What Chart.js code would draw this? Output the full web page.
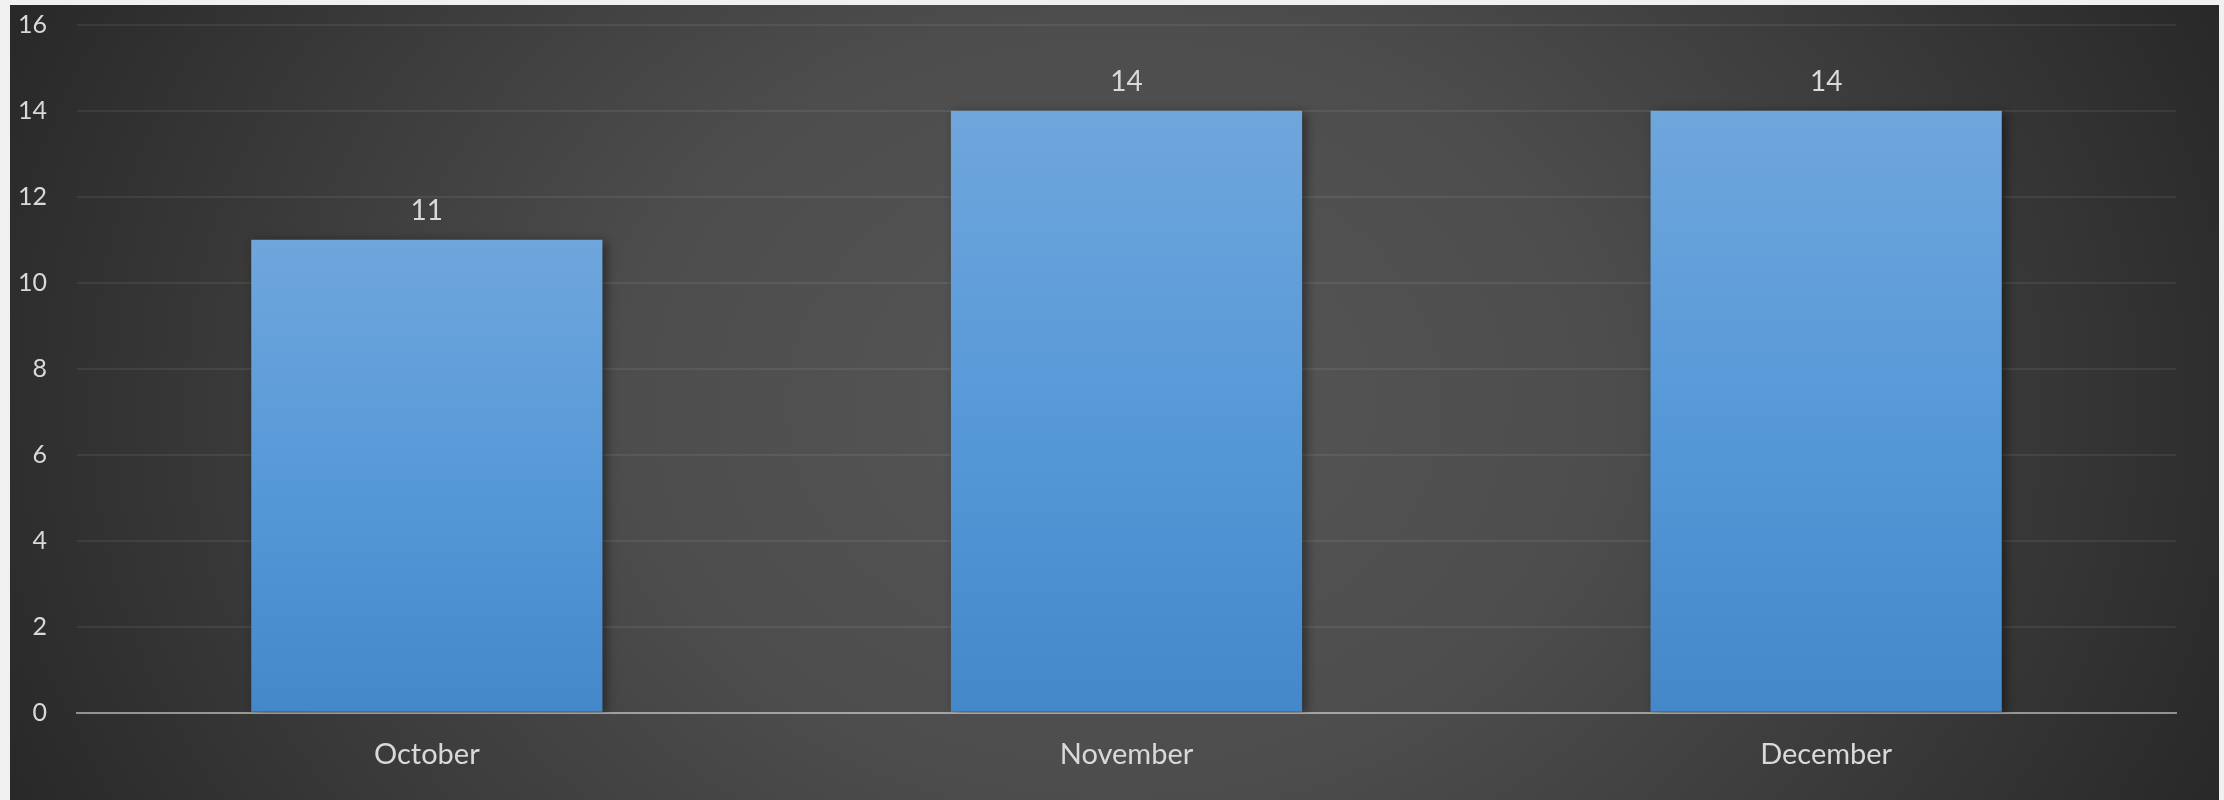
<!DOCTYPE html>
<html>
<head>
<meta charset="utf-8">
<script src="https://cdn.jsdelivr.net/npm/chart.js@4"></script>
<style>
  html, body { margin: 0; padding: 0; background: #f0f0f0; width: 2224px; height: 800px; overflow: hidden; }
  #wrap {
    position: absolute; left: 10px; top: 5px; width: 2209px; height: 795px;
    background: radial-gradient(ellipse 55% 120% at 50% 50%, #565656 0%, #4d4d4d 40%, #3b3b3b 70%, #282828 100%);
  }
  canvas { display: block; }
</style>
</head>
<body>
<div id="wrap"><canvas id="c" width="2209" height="795"></canvas></div>
<script>
const categories = ["October", "November", "December"];
const values = [11, 14, 14];
const yTicks = [0, 2, 4, 6, 8, 10, 12, 14, 16];

const FONT = "Lato, 'Open Sans', sans-serif";
const TEXT = "#d9d9d9";

const shadowPlugin = {
  id: 'barShadow',
  beforeDatasetDraw(chart) {
    const ctx = chart.ctx;
    ctx.save();
    ctx.shadowColor = 'rgba(0,0,0,0.45)';
    ctx.shadowBlur = 10;
    ctx.shadowOffsetX = 4;
    ctx.shadowOffsetY = 2;
  },
  afterDatasetDraw(chart) {
    chart.ctx.restore();
  }
};

const labelPlugin = {
  id: 'valueLabels',
  afterDatasetsDraw(chart) {
    const ctx = chart.ctx;
    const meta = chart.getDatasetMeta(0);
    ctx.save();
    ctx.font = "28px " + FONT;
    ctx.fillStyle = TEXT;
    ctx.textAlign = 'center';
    ctx.textBaseline = 'middle';
    meta.data.forEach((bar, i) => {
      ctx.fillText(String(values[i]), bar.x, bar.y - 29);
    });
    ctx.restore();
  }
};

function barGradient(context) {
  const chart = context.chart;
  const area = chart.chartArea;
  if (!area) return '#5b9bd5';
  const y = chart.scales.y;
  const top = y.getPixelForValue(values[context.dataIndex]);
  const bottom = y.getPixelForValue(0);
  const g = chart.ctx.createLinearGradient(0, top, 0, bottom);
  g.addColorStop(0, '#6fa6dc');
  g.addColorStop(0.5, '#5799d8');
  g.addColorStop(1, '#4488ca');
  return g;
}

new Chart(document.getElementById('c'), {
  type: 'bar',
  data: {
    labels: categories,
    datasets: [{
      data: values,
      backgroundColor: barGradient,
      borderWidth: 0,
      barPercentage: 0.502,
      categoryPercentage: 1.0
    }]
  },
  options: {
    responsive: false,
    animation: false,
    devicePixelRatio: 1,
    layout: { padding: { left: 10, right: 43, top: 19.7, bottom: 27.3 } },
    plugins: { legend: { display: false }, tooltip: { enabled: false } },
    scales: {
      x: {
        z: 1,
        afterFit(scale) { scale.height = 60; scale.paddingLeft = 0; scale.paddingRight = 0; },
        grid: { display: false, drawTicks: false },
        border: { display: true, color: 'rgba(255,255,255,0.45)', width: 2 },
        ticks: { color: TEXT, font: { family: FONT, size: 29 }, padding: 25 }
      },
      y: {
        min: 0, max: 16,
        afterBuildTicks(scale) { scale.ticks = yTicks.map(v => ({ value: v })); },
        afterFit(scale) { scale.width = 57; scale.paddingTop = 0; scale.paddingBottom = 0; },
        grid: { color: 'rgba(255,255,255,0.07)', lineWidth: 2, drawTicks: false },
        border: { display: false },
        ticks: { color: TEXT, font: { family: FONT, size: 25 }, padding: 30 }
      }
    }
  },
  plugins: [shadowPlugin, labelPlugin]
});
</script>
</body>
</html>
